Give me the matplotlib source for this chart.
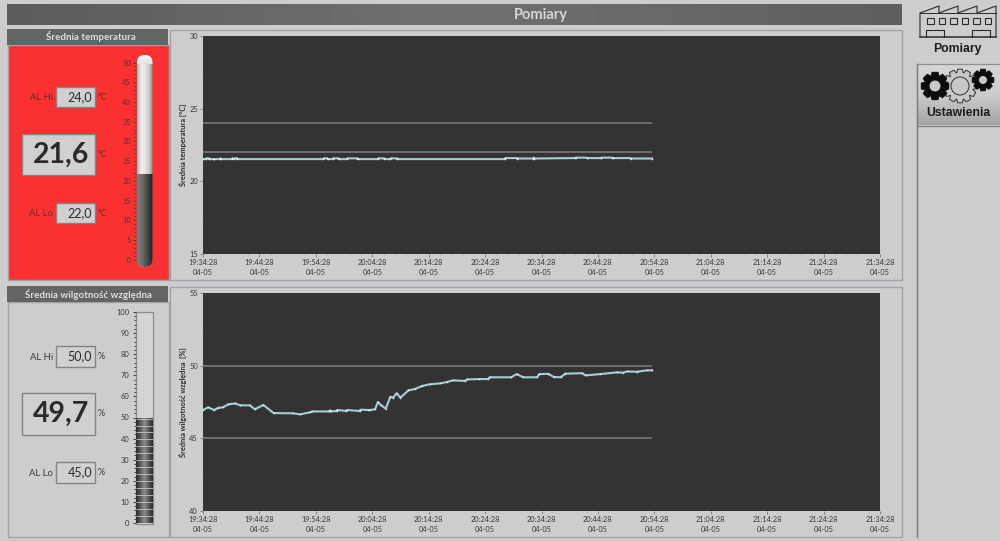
"""
Recreate the LabVIEW style "Pomiary" panel: two strip charts with
alarm limits, a thermometer and a humidity bar.
"""
import numpy as np
import matplotlib
matplotlib.use('Agg')
import matplotlib.pyplot as plt
from matplotlib.patches import Rectangle, Polygon, Circle, FancyBboxPatch

plt.rcParams['font.family'] = ['Lato', 'DejaVu Sans']

W, H = 1000, 541

# tick labels, one every 10 minutes from 19:34:28
time_labels = ['19:34:28', '19:44:28', '19:54:28', '20:04:28', '20:14:28',
               '20:24:28', '20:34:28', '20:44:28', '20:54:28', '21:04:28',
               '21:14:28', '21:24:28', '21:34:28']
date_label = '04-05'

# minutes since 19:34:28
temp_minutes = [0, 0.5, 0.6, 1.0, 1.1, 1.8, 1.9, 3.0, 3.1, 3.2, 5.1, 5.2, 5.5,
                5.6, 6.0, 6.1, 21.3, 21.4, 22.0, 22.1, 23.0, 23.1, 24.0, 24.1,
                25.5, 25.6, 27.3, 27.4, 31.0, 31.1, 32.0, 32.1, 33.2, 33.3,
                34.3, 34.4, 53.5, 53.6, 55.6, 55.7, 58.5, 58.6, 58.7, 66.0,
                66.1, 68.0, 68.1, 70.5, 70.6, 72.5, 72.6, 75.7, 75.8, 79.6]
temp_values = [21.53, 21.53, 21.58, 21.58, 21.53, 21.53, 21.53, 21.53, 21.58, 21.53,
               21.53, 21.58, 21.53, 21.58, 21.58, 21.53, 21.53, 21.58, 21.58, 21.53,
               21.53, 21.58, 21.58, 21.53, 21.53, 21.58, 21.58, 21.53, 21.53, 21.58,
               21.58, 21.53, 21.53, 21.58, 21.58, 21.53, 21.53, 21.6, 21.6, 21.57,
               21.57, 21.63, 21.57, 21.6, 21.63, 21.63, 21.6, 21.6, 21.63, 21.63,
               21.6, 21.6, 21.57, 21.57]

hum_minutes = [0, 0.9, 2, 2.7, 3.5, 4.5, 5.7, 6.6, 8.3, 9.2, 10.7, 12.5, 16,
               17.2, 19, 19.3, 22.4, 22.5, 22.6, 23.7, 23.8, 25.4, 25.5, 27.8,
               27.9, 29.3, 29.6, 30.5, 31, 31.5, 32.4, 33.2, 33.7,
               34.3, 35, 36.4, 37.6, 38.8, 40.2, 42, 43.2, 44.3, 46.4, 46.8,
               49, 50.5, 50.8, 54.6, 55.6, 56.8, 59.2, 59.6, 61.2, 62.2, 63.4,
               64.2, 67.2, 67.8, 70.4, 73.4, 74.5, 75.1, 76.9, 78.7, 79.6]
hum_values = [46.95, 47.13, 46.95, 47.1, 47.13, 47.34, 47.4, 47.27, 47.27, 47.0,
              47.3, 46.74, 46.72, 46.65, 46.79, 46.85, 46.85, 46.92, 46.85, 46.88,
              46.95, 46.88, 46.95, 46.88, 46.97, 46.95, 46.95, 47.0, 47.5,
              47.3, 47.04, 47.86, 47.8, 48.1, 47.8, 48.3, 48.4, 48.6, 48.72,
              48.78, 48.87, 48.99, 48.95, 49.05, 49.08, 49.08, 49.2, 49.2, 49.42,
              49.2, 49.2, 49.42, 49.44, 49.22, 49.2, 49.45, 49.48, 49.33, 49.42,
              49.54, 49.52, 49.6, 49.58, 49.68, 49.68]

temp_limits = (24.0, 22.0)
hum_limits = (50.0, 45.0)
temp_current = 21.6
hum_current = 49.7

BG = '#cdcdcd'
PANEL_EDGE = '#a2a2aa'
HEADER = '#646464'
TEXT = '#383838'
TEXT_RED = '#682c2c'
PLOT_BG = '#333333'
TRACE = '#a4ced6'
LIMIT = '#7a7580'


def px_axes(fig, x0, y0, x1, y1, **kw):
    """Add an axes given by pixel corners, y measured from the top."""
    return fig.add_axes([x0 / W, 1 - y1 / H, (x1 - x0) / W, (y1 - y0) / H], **kw)


def ramp(stops, where=None):
    """Grey levels for a gradient, smooth enough not to show bands."""
    if where is None:
        where = np.linspace(0, 1, len(stops))
    return np.interp(np.linspace(0, 1, 256), where, stops)


def gradient(ax, x0, y0, x1, y1, stops, vertical=True, zorder=1):
    """Fill a box with a linear gradient of grey levels."""
    vals = ramp(stops)
    img = vals[:, None] if vertical else vals[None, :]
    return ax.imshow(img, extent=(x0, x1, y1, y0), cmap='gray', vmin=0, vmax=1,
                     aspect='auto', zorder=zorder, interpolation='bilinear')


def value_box(ax, x0, y0, x1, y1, text, size, unit, bold=False, color=TEXT):
    ax.add_patch(Rectangle((x0, y0), x1 - x0, y1 - y0, fc='#d0d0d0',
                           ec='#808484', lw=1.0, zorder=3))
    ax.text(x1 - (6 if bold else 3), (y0 + y1) / 2, text, ha='right', va='center',
            fontsize=size, color='#2a2a2a', fontweight='bold' if bold else 'normal',
            zorder=4)
    ax.text(x1 + 3, (y0 + y1) / 2, unit, ha='left', va='center', fontsize=6.5,
            color=color, zorder=4)


def strip_chart(fig, box, minutes, values, limits, ylim, yticks, ylabel):
    ax = px_axes(fig, *box, facecolor=PLOT_BG)
    ax.hlines(limits, 0, minutes[-1], color=LIMIT, lw=1.2, zorder=2)
    ax.plot(minutes, values, color=TRACE, lw=1.5, zorder=3)
    ax.plot(minutes, values, ls='none', marker='s', ms=1.0, mew=0,
            color='#e6f4f6', zorder=4)
    ax.set_xlim(0, 120)
    ax.set_ylim(*ylim)
    ax.set_xticks(np.arange(0, 121, 10))
    ax.set_xticks(np.arange(0, 121, 2), minor=True)
    ax.set_xticklabels(['%s\n%s' % (t, date_label) for t in time_labels],
                       fontsize=5.3, color=TEXT, linespacing=1.5)
    ax.set_yticks(yticks)
    ax.set_yticks(np.arange(ylim[0], ylim[1] + 0.1, 2.5), minor=True)
    ax.set_yticklabels([str(t) for t in yticks], fontsize=5.4, color=TEXT)
    ax.tick_params(axis='both', which='major', length=2, width=0.5, color='#666666', pad=1.5)
    ax.tick_params(axis='both', which='minor', length=1, width=0.4, color='#888888')
    ax.set_ylabel(ylabel, fontsize=5.3, color='#2c2c2c', labelpad=2, fontweight='bold')
    for spine in ax.spines.values():
        spine.set_visible(False)
    return ax


def scale_axis(ax, ticks, minor, color=TEXT):
    ax.set_yticks(ticks)
    ax.set_yticks(minor, minor=True)
    ax.set_yticklabels([str(t) for t in ticks], fontsize=5.4, color=color)
    ax.tick_params(axis='y', which='major', length=2.2, width=0.7, color='#444444', pad=1)
    ax.tick_params(axis='y', which='minor', length=1.2, width=0.7, color='#444444')
    ax.set_xticks([])
    for spine in ax.spines.values():
        spine.set_visible(False)


def gear(ax, cx, cy, r_out, r_in, r_hole, teeth, fc, ec, lw=0.7, zorder=5):
    """Draw a toothed wheel."""
    pts = []
    step = 2 * np.pi / teeth
    for i in range(teeth):
        a = i * step
        for da, r in ((-0.30, r_in), (-0.17, r_out), (0.17, r_out), (0.30, r_in)):
            pts.append((cx + r * np.cos(a + da * step * 1.6),
                        cy + r * np.sin(a + da * step * 1.6)))
    ax.add_patch(Polygon(pts, closed=True, fc=fc, ec=ec, lw=lw, zorder=zorder))
    ax.add_patch(Circle((cx, cy), r_hole, fc='#c8c8c8', ec=ec, lw=lw, zorder=zorder + 1))


fig = plt.figure(figsize=(W / 100, H / 100), dpi=100, facecolor=BG)

# page level canvas in pixel coordinates
bg = fig.add_axes([0, 0, 1, 1], facecolor=BG)
bg.axis('off')

# title bar
gradient(bg, 7, 4, 902, 25, [0.36, 0.44, 0.37], vertical=False)
bg.text(541, 14.5, 'Pomiary', ha='center', va='center', fontsize=10.5,
        fontweight='bold', color='#d6d6d6', zorder=3)

# outer panels
for x0, y0, x1, y1, fc in [(169.5, 29.5, 901.5, 279.5, BG),
                           (169.5, 286.5, 901.5, 536.5, BG),
                           (7.5, 302, 168.5, 536.5, BG),
                           (7.5, 45, 168.5, 279.5, '#fb3030')]:
    bg.add_patch(Rectangle((x0, y0), x1 - x0, y1 - y0, fc=fc, ec=PANEL_EDGE,
                           lw=1.0, zorder=2))

# panel headers
for y0, cx, title in [(29, 91, 'Średnia temperatura'),
                      (286, 88.5, 'Średnia wilgotność względna')]:
    bg.add_patch(Rectangle((7, y0), 161, 16, fc=HEADER, ec='none', zorder=3))
    bg.text(cx, y0 + 8, title, ha='center', va='center', fontsize=7.0,
            fontweight='bold', color='#dedede', zorder=4)

# temperature read-outs
bg.text(53, 97, 'AL Hi', ha='right', va='center', fontsize=6.8, color=TEXT_RED, zorder=4)
value_box(bg, 56, 87, 95, 107, '24,0', 9, '°C', color=TEXT_RED)
value_box(bg, 22, 134, 95, 175, '21,6', 20.5, '°C', bold=True, color=TEXT_RED)
bg.text(53, 213, 'AL Lo', ha='right', va='center', fontsize=6.8, color=TEXT_RED, zorder=4)
value_box(bg, 56, 203, 95, 223, '22,0', 9, '°C', color=TEXT_RED)

# humidity read-outs
bg.text(53, 357, 'AL Hi', ha='right', va='center', fontsize=6.8, color=TEXT, zorder=4)
value_box(bg, 56, 346, 95, 367, '50,0', 9, '%')
value_box(bg, 22, 393, 95, 435, '49,7', 20.5, '%', bold=True)
bg.text(53, 473, 'AL Lo', ha='right', va='center', fontsize=6.8, color=TEXT, zorder=4)
value_box(bg, 56, 462, 95, 483, '45,0', 9, '%')

# thermometer: a pill shape clipping the glass and the level
pill = FancyBboxPatch((137, 55), 15.5, 212, boxstyle='round,pad=0,rounding_size=7.7',
                      fc='none', ec='none', transform=bg.transData, zorder=3)
bg.add_patch(pill)
glass = gradient(bg, 137, 55, 152.5, 267, [0.66, 0.94, 0.90, 0.80, 0.52],
                 vertical=False, zorder=3)
glass.set_clip_path(pill)
cap = gradient(bg, 137, 55, 152.5, 64, [0.98, 0.88], zorder=3.1)
cap.set_clip_path(pill)

therm = px_axes(fig, 135.5, 62.5, 152.5, 259.7, facecolor='none')
lvl = ramp([0.50, 0.42, 0.28, 0.12])
level = therm.imshow(lvl[None, :], extent=(0.09, 1, -2, temp_current), cmap='gray',
                     vmin=0, vmax=1, aspect='auto', interpolation='bilinear')
level.set_clip_box(fig.bbox)
level.set_clip_path(pill)
therm.set_xlim(0, 1)
therm.set_ylim(0, 50)
scale_axis(therm, list(range(0, 51, 5)), np.arange(0, 51, 1), color=TEXT_RED)

# humidity bar
bg.add_patch(Rectangle((135.7, 312), 17, 212, fc='#d4d4d4', ec='#8c8c8c', lw=0.9, zorder=3))
bar = px_axes(fig, 135.7, 312, 152.7, 523, facecolor='none')
lvl = ramp([0.15, 0.55, 0.15])
bar.imshow(lvl[None, :], extent=(0, 1, 0, hum_current), cmap='gray', vmin=0, vmax=1,
           aspect='auto', interpolation='bilinear')
bar.hlines(np.arange(3.3, hum_current, 3.3), 0, 1, color='#c4c4c4', lw=0.6)
bar.set_xlim(0, 1)
bar.set_ylim(0, 100)
scale_axis(bar, list(range(0, 101, 10)), np.arange(0, 101, 2))
bar.tick_params(axis='y', which='major', pad=2.5)

# strip charts
strip_chart(fig, (203, 36, 880, 254), temp_minutes, temp_values, temp_limits,
            (15, 30), [15, 20, 25, 30], 'Średnia temperatura [°C]')
strip_chart(fig, (203, 293, 880, 511), hum_minutes, hum_values, hum_limits,
            (40, 55), [40, 45, 50, 55], 'Średnia wilgotność względna  [%]')

# navigation: factory icon
ICON = '#2a2a2a'
roof_x = [920, 920, 939, 939, 958, 958, 977, 977, 996, 996]
roof_y = [37, 13, 6, 13, 6, 13, 6, 13, 6, 37]
bg.plot(roof_x, roof_y, color=ICON, lw=0.8, zorder=5)
bg.plot([920, 996], [37, 37], color=ICON, lw=1.1, zorder=5)
bg.plot([920, 996], [13, 13], color=ICON, lw=0.7, zorder=5)
for wx in [927, 938.5, 950, 961.5, 973, 984.5]:
    bg.add_patch(Rectangle((wx, 18), 6.5, 6, fc='none', ec=ICON, lw=0.8, zorder=5))
for dx in [926, 972]:
    bg.plot([dx, dx, dx + 18, dx + 18], [37, 29.5, 29.5, 37], color=ICON, lw=0.8, zorder=5)
bg.text(957, 49, 'Pomiary', ha='center', va='center', fontsize=8.8, fontweight='bold',
        family='Liberation Sans', color='#1c1c1c', zorder=5)

# navigation: settings button
gradient(bg, 917, 64, 1000, 125, [0.84, 0.80, 0.64], zorder=2)
bg.plot([916.5, 916.5], [64, 537], color='#787878', lw=1.0, zorder=3)
bg.plot([917, 1000], [64, 64], color='#8e8e8e', lw=0.9, zorder=3)
bg.plot([917, 1000], [125.5, 125.5], color='#7c7c7c', lw=0.9, zorder=3)
gear(bg, 960, 86, 17, 13.5, 9, 12, '#c8c8c8', '#303030', lw=0.7, zorder=4)
gear(bg, 935, 86, 14, 10.5, 6, 8, '#0c0c0c', '#0c0c0c', zorder=6)
gear(bg, 983, 80, 11, 8, 4.5, 8, '#0c0c0c', '#0c0c0c', zorder=6)
bg.text(958, 113, 'Ustawienia', ha='center', va='center', fontsize=8.8, fontweight='bold',
        family='Liberation Sans', color='#1c1c1c', zorder=7)

bg.set_xlim(0, W)
bg.set_ylim(H, 0)

fig.savefig('out.png', dpi=100, facecolor=BG)
